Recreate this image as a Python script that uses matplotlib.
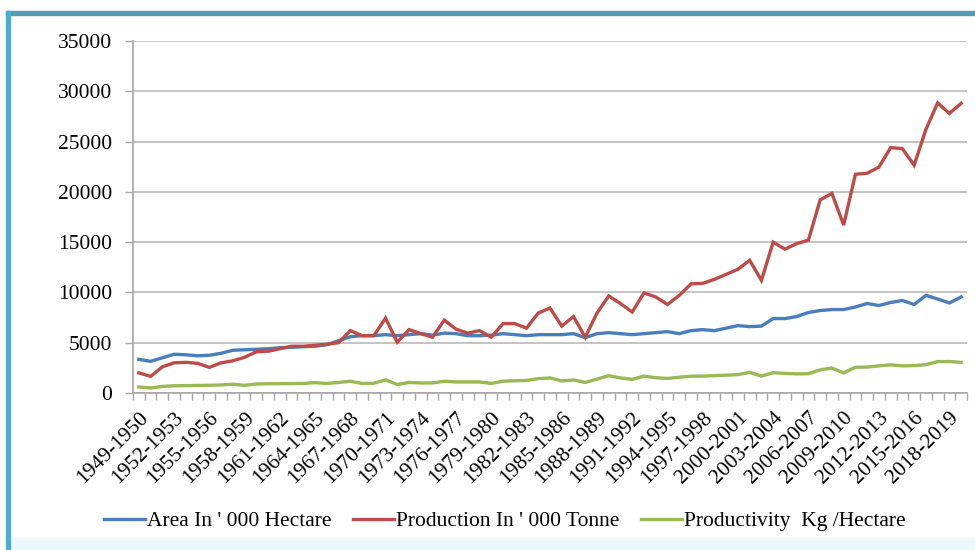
import matplotlib
matplotlib.use("Agg")
import matplotlib.pyplot as plt
from matplotlib.patches import Rectangle
import numpy as np

# Crop years 1949-1950 ... 2019-2020
years = [f"{y}-{y + 1}" for y in range(1949, 2020)]

area = [3350, 3150, 3500, 3850, 3800, 3700, 3750, 3950, 4250, 4300,
        4350, 4400, 4500, 4550, 4600, 4650, 4800, 5200, 5600, 5700,
        5700, 5800, 5700, 5800, 5900, 5750, 5950, 5900, 5700, 5700,
        5750, 5900, 5800, 5700, 5800, 5800, 5800, 5900, 5500, 5900,
        6000, 5900, 5800, 5900, 6000, 6100, 5900, 6200, 6300, 6200,
        6450, 6700, 6600, 6650, 7400, 7400, 7600, 8000, 8200, 8300,
        8300, 8550, 8900, 8700, 9000, 9200, 8800, 9700, 9350, 8950,
        9550]

production = [2000, 1650, 2600, 3000, 3050, 2950, 2550, 3000, 3200, 3550,
              4100, 4150, 4400, 4650, 4650, 4750, 4850, 5000, 6200, 5700,
              5700, 7450, 5050, 6300, 5900, 5550, 7250, 6350, 5950, 6200,
              5550, 6900, 6900, 6450, 7950, 8450, 6650, 7600, 5550, 7950,
              9650, 8900, 8050, 9950, 9550, 8800, 9700, 10850, 10900, 11300,
              11800, 12300, 13200, 11200, 15000, 14300, 14850, 15200, 19200, 19850,
              16700, 21750, 21850, 22450, 24400, 24300, 22650, 26200, 28850, 27800,
              28800]

productivity = [600, 500, 650, 720, 730, 750, 770, 800, 870, 760,
                900, 920, 930, 940, 950, 1030, 950, 1050, 1170, 950,
                970, 1300, 850, 1050, 1000, 1000, 1170, 1100, 1100, 1100,
                950, 1170, 1220, 1250, 1430, 1500, 1200, 1300, 1050, 1380,
                1720, 1500, 1350, 1680, 1520, 1450, 1570, 1670, 1680, 1730,
                1770, 1830, 2050, 1680, 2020, 1950, 1900, 1920, 2300, 2480,
                2000, 2560, 2580, 2700, 2800, 2700, 2720, 2820, 3120, 3130,
                3050]

labels = ["Area In ' 000 Hectare", "Production In ' 000 Tonne",
          "Productivity  Kg /Hectare"]
colors = ["#4a7ebb", "#be4b48", "#98b954"]

plt.rcParams["font.family"] = ["Liberation Serif", "DejaVu Serif"]
FS = 15.5

fig = plt.figure(figsize=(9.75, 5.5), dpi=100)

# frame around the chart
fig.patches.append(Rectangle((8 / 975, 0), 1, 12 / 550, transform=fig.transFigure,
                             color="#eaf8fb", zorder=0))
fig.patches.append(Rectangle((6 / 975, 535 / 550), 1, 4 / 550, transform=fig.transFigure,
                             color="#4b9fb7", zorder=1))
fig.patches.append(Rectangle((6 / 975, 0), 4 / 975, 539 / 550, transform=fig.transFigure,
                             color="#4aaed0", zorder=1))

ax = fig.add_axes([133 / 975, 1 - 393 / 550, 834 / 975, 352 / 550])

x = np.arange(len(years))
for series, lab, col in zip([area, production, productivity], labels, colors):
    ax.plot(x, series, color=col, lw=2.4, label=lab, solid_joinstyle="miter", zorder=3)

ax.set_xlim(-0.5, len(years) - 0.5)
ax.set_ylim(0, 35000)
ax.set_yticks(np.arange(0, 35001, 5000))
ax.yaxis.grid(True, color="#c4c4c4", lw=1.4)
ax.set_axisbelow(True)

ax.set_xticks(x[::3])
ax.set_xticklabels(years[::3], rotation=45, ha="right", va="top",
                   rotation_mode="anchor", fontsize=FS)
ax.set_xticks(np.arange(-0.5, len(years), 1), minor=True)
ax.tick_params(axis="x", which="major", length=0, pad=11)
ax.tick_params(axis="x", which="minor", length=5, color="#a6a6a6", width=1)
ax.tick_params(axis="y", length=6, color="#a6a6a6", width=1, pad=9, labelsize=FS)

for side in ["top", "right"]:
    ax.spines[side].set_visible(False)
for side in ["left", "bottom"]:
    ax.spines[side].set_color("#a6a6a6")
    ax.spines[side].set_linewidth(1.2)

fig.legend(loc="center", bbox_to_anchor=(0.518, 0.052), ncol=3, frameon=False,
           fontsize=FS, handlelength=1.9, handletextpad=0.1, columnspacing=1.0)

fig.savefig("out.png", dpi=100, facecolor="white")
